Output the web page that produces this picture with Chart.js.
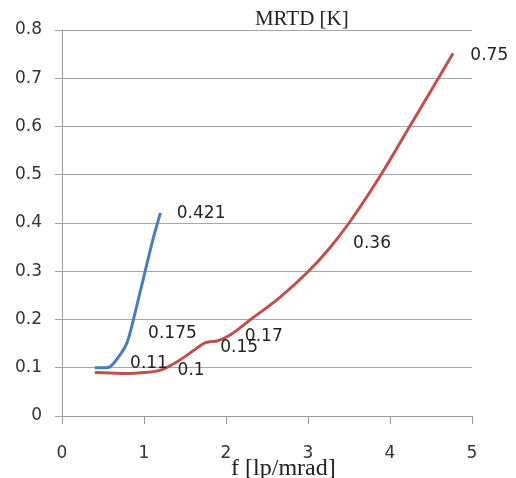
<!DOCTYPE html>
<html>
<head>
<meta charset="utf-8">
<script src="https://cdn.jsdelivr.net/npm/chart.js@4/dist/chart.umd.min.js"></script>
<style>
html,body{margin:0;padding:0;background:#fff;}
#wrap{width:516px;height:478px;}
</style>
</head>
<body>
<div id="wrap"><canvas id="c" width="516" height="478"></canvas></div>
<script>
// Series 1 (blue)
const blueX = [0.40, 0.55, 0.70, 0.80, 0.90, 1.00, 1.10, 1.20];
const blueY = [0.100, 0.100, 0.125, 0.155, 0.220, 0.290, 0.360, 0.421];
// Series 2 (red)
const redX = [0.40, 0.60, 0.80, 1.00, 1.20, 1.40, 1.60, 1.75, 1.90, 2.05, 2.30, 2.65, 3.00, 3.25, 3.50, 3.89, 4.24, 4.59, 4.77];
const redY = [0.090, 0.089, 0.088, 0.090, 0.095, 0.112, 0.135, 0.152, 0.156, 0.168, 0.200, 0.245, 0.299, 0.345, 0.400, 0.500, 0.600, 0.700, 0.752];
// Value annotations (text, anchored in data units)
const noteText = ["0.421", "0.75", "0.36", "0.175", "0.11", "0.1", "0.15", "0.17"];
const noteX = [1.40, 4.98, 3.55, 1.05, 0.83, 1.41, 1.93, 2.23];
const noteY = [0.420, 0.746, 0.358, 0.171, 0.109, 0.095, 0.142, 0.165];
// Axis ticks
const xTicks = [0, 1, 2, 3, 4, 5];
const yTicks = [0, 0.1, 0.2, 0.3, 0.4, 0.5, 0.6, 0.7, 0.8];
const chartTitle = "MRTD [K]";
const xTitle = "f [lp/mrad]";

const toPts = (xs, ys) => xs.map((x, i) => ({x: x, y: ys[i]}));

const notesPlugin = {
  id: 'notes',
  afterDatasetsDraw(chart) {
    const ctx = chart.ctx, xs = chart.scales.x, ys = chart.scales.y;
    ctx.save();
    ctx.font = '17px "DejaVu Sans"';
    ctx.fillStyle = '#222';
    ctx.textAlign = 'left';
    ctx.textBaseline = 'middle';
    noteText.forEach((t, i) => {
      ctx.fillText(t, xs.getPixelForValue(noteX[i]), ys.getPixelForValue(noteY[i]));
    });
    // titles
    const ca = chart.chartArea;
    ctx.font = '21px "Liberation Serif"';
    ctx.textAlign = 'center';
    ctx.textBaseline = 'alphabetic';
    ctx.fillText(chartTitle, ca.left + (ca.right - ca.left) * 0.585, 25);
    ctx.font = '24px "Liberation Serif"';
    ctx.fillText(xTitle, ca.left + (ca.right - ca.left) * 0.54, 475);
    ctx.restore();
  }
};

new Chart(document.getElementById('c'), {
  type: 'line',
  data: {
    datasets: [
      {data: toPts(blueX, blueY), borderColor: '#4a7ebb', borderWidth: 3, pointRadius: 0, tension: 0.4, cubicInterpolationMode: 'monotone', fill: false},
      {data: toPts(redX, redY), borderColor: '#c0504d', borderWidth: 3, pointRadius: 0, tension: 0.4, cubicInterpolationMode: 'monotone', fill: false}
    ]
  },
  options: {
    responsive: false,
    animation: false,
    devicePixelRatio: 1,
    layout: {padding: {top: 30, right: 44, left: 0, bottom: 0}},
    plugins: {legend: {display: false}, tooltip: {enabled: false}, title: {display: false}},
    scales: {
      x: {
        type: 'linear', min: 0, max: 5,
        afterBuildTicks: s => { s.ticks = xTicks.map(v => ({value: v})); },
        afterFit: s => { s.height = 62; },
        grid: {drawOnChartArea: false, color: '#999', tickLength: 8},
        border: {color: '#999', width: 1},
        ticks: {color: '#333', font: {family: 'DejaVu Sans', size: 17}, padding: 19, maxRotation: 0}
      },
      y: {
        type: 'linear', min: 0, max: 0.8,
        afterBuildTicks: s => { s.ticks = yTicks.map(v => ({value: v})); },
        afterFit: s => { s.width = 62; },
        grid: {color: '#a6a6a6', tickLength: 7},
        border: {color: '#999', width: 1},
        ticks: {color: '#333', font: {family: 'DejaVu Sans', size: 17}, padding: 13,
          callback: v => String(Math.round(v * 10) / 10)}
      }
    }
  },
  plugins: [notesPlugin]
});
</script>
</body>
</html>
